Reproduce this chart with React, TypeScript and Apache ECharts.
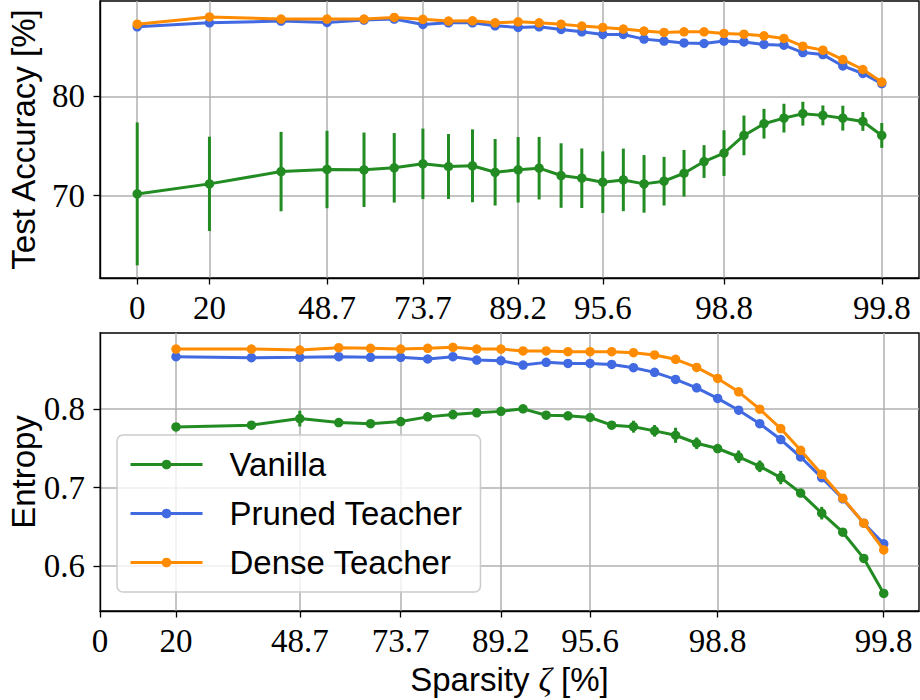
import React, { useEffect, useRef } from "react";
import * as echarts from "echarts";

// x position (axis units) of each pruning iteration k = 0..28
const iterPos = [
  0, 9.7, 19.32, 25.49, 30.46, 34.52, 38.37, 41.81, 45.03, 48.07, 51.16, 53.98, 56.93, 59.71, 62.53,
  65.29, 68.07, 70.76, 73.44, 76.13, 78.81, 81.49, 84.18, 86.86, 89.4, 92.09, 94.77, 97.46, 100,
];
const tickIter = [0, 1, 3, 6, 10, 14, 20, 28];
const tickLabels = ["0", "20", "48.7", "73.7", "89.2", "95.6", "98.8", "99.8"];
const accTicks = [70, 80];
const entTicks = [0.6, 0.7, 0.8];

// Top: test accuracy, k = 0..28
const vanillaAcc = [
  70.17, 71.18, 72.42, 72.63, 72.6, 72.8, 73.2, 72.93, 73.0, 72.35, 72.6, 72.76, 72.02, 71.75, 71.35,
  71.58, 71.18, 71.45, 72.25, 73.43, 74.28, 76.06, 77.24, 77.8, 78.25, 78.08, 77.8, 77.47, 76.06,
];
const vanillaAccErr = [
  7.2, 4.75, 4.0, 3.9, 3.75, 3.5, 3.55, 3.27, 3.67, 3.35, 3.3, 3.15, 3.25, 3.0, 3.1, 3.15, 2.9, 2.45,
  2.35, 1.65, 2.3, 2.0, 1.5, 1.45, 1.2, 1.0, 1.25, 0.95, 1.25,
];
const prunedAcc = [
  87.0, 87.4, 87.58, 87.44, 87.68, 87.78, 87.24, 87.4, 87.4, 87.1, 86.94, 87.0, 86.73, 86.5, 86.23,
  86.23, 85.76, 85.56, 85.38, 85.32, 85.56, 85.48, 85.22, 85.15, 84.41, 84.2, 83.06, 82.3, 81.28,
];
const denseAcc = [
  87.27, 88.0, 87.78, 87.78, 87.78, 87.95, 87.75, 87.58, 87.6, 87.4, 87.5, 87.4, 87.27, 87.07, 86.94,
  86.77, 86.57, 86.43, 86.5, 86.5, 86.33, 86.26, 86.09, 85.83, 85.05, 84.65, 83.7, 82.7, 81.44,
];

// Bottom: entropy, k = 1..28
const vanillaEnt = [
  0.7774, 0.7796, 0.788, 0.783, 0.7815, 0.7842, 0.7902, 0.7932, 0.7953, 0.7972, 0.8004, 0.7923, 0.7915,
  0.7894, 0.7796, 0.7777, 0.7724, 0.7668, 0.7566, 0.7499, 0.7394, 0.7273, 0.7129, 0.6932, 0.6676,
  0.6433, 0.61, 0.5654,
];
const vanillaEntErr = [
  0.003, 0.003, 0.01, 0.003, 0.003, 0.004, 0.003, 0.006, 0.003, 0.003, 0.003, 0.003, 0.003, 0.003,
  0.003, 0.0076, 0.0074, 0.0096, 0.0074, 0.004, 0.008, 0.0074, 0.0085, 0.004, 0.008, 0.004, 0.004,
  0.004,
];
const prunedEnt = [
  0.8668, 0.8655, 0.866, 0.8668, 0.866, 0.866, 0.8639, 0.8668, 0.8626, 0.8617, 0.8562, 0.8596, 0.8583,
  0.8583, 0.857, 0.8528, 0.8469, 0.8379, 0.8272, 0.8137, 0.7987, 0.7815, 0.7613, 0.7391, 0.7128,
  0.6859, 0.6548, 0.6285,
];
const denseEnt = [
  0.8766, 0.8766, 0.8753, 0.8783, 0.8775, 0.8766, 0.8775, 0.8788, 0.8766, 0.8766, 0.8741, 0.8741,
  0.8732, 0.8732, 0.8732, 0.8719, 0.869, 0.8635, 0.8532, 0.8392, 0.8221, 0.8, 0.7753, 0.7476, 0.717,
  0.6867, 0.6548, 0.6208,
];

const GREEN = "#228B22";
const BLUE = "#4169E1";
const ORANGE = "#FF8C00";
const SANS = "Liberation Sans";
const SERIF = "Liberation Serif";

export default function App() {
  const ref = useRef<HTMLDivElement>(null);
  useEffect(() => {
    const chart = echarts.init(ref.current!, undefined, { renderer: "svg" });
    const tickPos = tickIter.map((k) => iterPos[k]);
    const xFmt = (v: number) => {
      const i = tickPos.findIndex((p) => Math.abs(p - v) < 1e-6);
      return i >= 0 ? tickLabels[i] : "";
    };
    const posTop = iterPos;
    const posBot = iterPos.slice(1);
    const pairs = (xs: number[], ys: number[]) => xs.map((x, i) => [x, ys[i]]);
    const errData = (xs: number[], ys: number[], es: number[]) =>
      xs.map((x, i) => [x, ys[i] - es[i], ys[i] + es[i]]);

    const tickLabelStyle = { fontFamily: SERIF, fontSize: 33, color: "#000", lineHeight: 33 };
    const xAxisBase = (gridIndex: number, min: number, max: number) => ({
      type: "value",
      gridIndex,
      min,
      max,
      axisLine: { show: true, onZero: false, lineStyle: { color: "#000", width: 1.4 } },
      axisTick: { show: true, length: 6.5, lineStyle: { color: "#000", width: 1.3 }, customValues: tickPos },
      axisLabel: { ...tickLabelStyle, margin: 13, customValues: tickPos, formatter: xFmt, hideOverlap: false },
      splitLine: { show: true, lineStyle: { color: "#b0b0b0", width: 1.5 } },
    });
    const yAxisBase = (gridIndex: number, min: number, max: number, ticks: number[], name: string, nameGap: number) => ({
      type: "value",
      gridIndex,
      min,
      max,
      name,
      nameLocation: "middle",
      nameGap,
      nameMoveOverlap: false,
      nameTextStyle: { fontFamily: SANS, fontSize: 33, color: "#000", lineHeight: 30 },
      axisLine: { show: true, onZero: false, lineStyle: { color: "#000", width: 1.4 } },
      axisTick: { show: true, length: 6.5, lineStyle: { color: "#000", width: 1.3 }, customValues: ticks },
      axisLabel: { ...tickLabelStyle, margin: 15, customValues: ticks, formatter: (v: number) => String(v) },
      splitLine: { show: true, lineStyle: { color: "#b0b0b0", width: 1.5 } },
    });

    const errSeries = (name: string, xi: number, data: number[][]) => ({
      type: "custom",
      name,
      xAxisIndex: xi,
      yAxisIndex: xi,
      z: 2,
      encode: { x: 0, y: [1, 2] },
      data,
      renderItem: (params: any, api: any) => {
        const x = api.value(0);
        const p1 = api.coord([x, api.value(1)]);
        const p2 = api.coord([x, api.value(2)]);
        return {
          type: "line",
          shape: { x1: p1[0], y1: p1[1], x2: p2[0], y2: p2[1] },
          style: { stroke: GREEN, lineWidth: 3 },
        };
      },
    });
    const lineSeries = (name: string, color: string, xi: number, data: number[][], z: number) => ({
      type: "line",
      name,
      xAxisIndex: xi,
      yAxisIndex: xi,
      z,
      data,
      symbol: "circle",
      symbolSize: 9.5,
      showSymbol: true,
      lineStyle: { color, width: 3 },
      itemStyle: { color },
      emphasis: { disabled: true },
    });

    const option: any = {
      animation: false,
      backgroundColor: "#fff",
      grid: [
        { left: 100, right: 1, top: 1, bottom: 422, outerBoundsMode: "none", containLabel: false, show: true, borderColor: "#000", borderWidth: 1.4, backgroundColor: "transparent" },
        { left: 100, right: 1, top: 333, bottom: 89, outerBoundsMode: "none", containLabel: false, show: true, borderColor: "#000", borderWidth: 1.4, backgroundColor: "transparent" },
      ],
      xAxis: [
        xAxisBase(0, -5, 105),
        {
          ...xAxisBase(1, 0, 104.5),
          name: "Sparsity {z|ζ} [%]",
          nameLocation: "middle",
          nameGap: 52,
          nameTextStyle: {
            fontFamily: SANS,
            fontSize: 33,
            color: "#000",
            rich: { z: { fontFamily: SERIF, fontStyle: "italic", fontSize: 33, color: "#000" } },
          },
        },
      ],
      yAxis: [
        yAxisBase(0, 61.7, 89.6, accTicks, "Test Accuracy [%]", 62),
        yAxisBase(1, 0.543, 0.897, entTicks, "Entropy", 62),
      ],
      legend: {
        show: true,
        orient: "vertical",
        left: 117,
        top: 435,
        data: ["Vanilla", "Pruned Teacher", "Dense Teacher"],
        selectedMode: false,
        itemWidth: 72,
        itemHeight: 12,
        itemGap: 16,
        padding: [13, 18, 13, 12],
        backgroundColor: "rgba(255,255,255,0.8)",
        borderColor: "#cccccc",
        borderWidth: 1.5,
        borderRadius: 6,
        lineStyle: { width: 3 },
        textStyle: { fontFamily: SANS, fontSize: 33, color: "#000", lineHeight: 33, padding: [0, 0, 0, 22] },
      },
      series: [
        errSeries("Vanilla err top", 0, errData(posTop, vanillaAcc, vanillaAccErr)),
        lineSeries("Vanilla", GREEN, 0, pairs(posTop, vanillaAcc), 3),
        lineSeries("Pruned Teacher", BLUE, 0, pairs(posTop, prunedAcc), 4),
        lineSeries("Dense Teacher", ORANGE, 0, pairs(posTop, denseAcc), 5),
        errSeries("Vanilla err bottom", 1, errData(posBot, vanillaEnt, vanillaEntErr)),
        lineSeries("Vanilla", GREEN, 1, pairs(posBot, vanillaEnt), 3),
        lineSeries("Pruned Teacher", BLUE, 1, pairs(posBot, prunedEnt), 4),
        lineSeries("Dense Teacher", ORANGE, 1, pairs(posBot, denseEnt), 5),
      ],
    };
    chart.setOption(option);
    return () => chart.dispose();
  }, []);
  return <div ref={ref} style={{ position: "absolute", left: 0, top: 0, width: 920, height: 700 }} />;
}
